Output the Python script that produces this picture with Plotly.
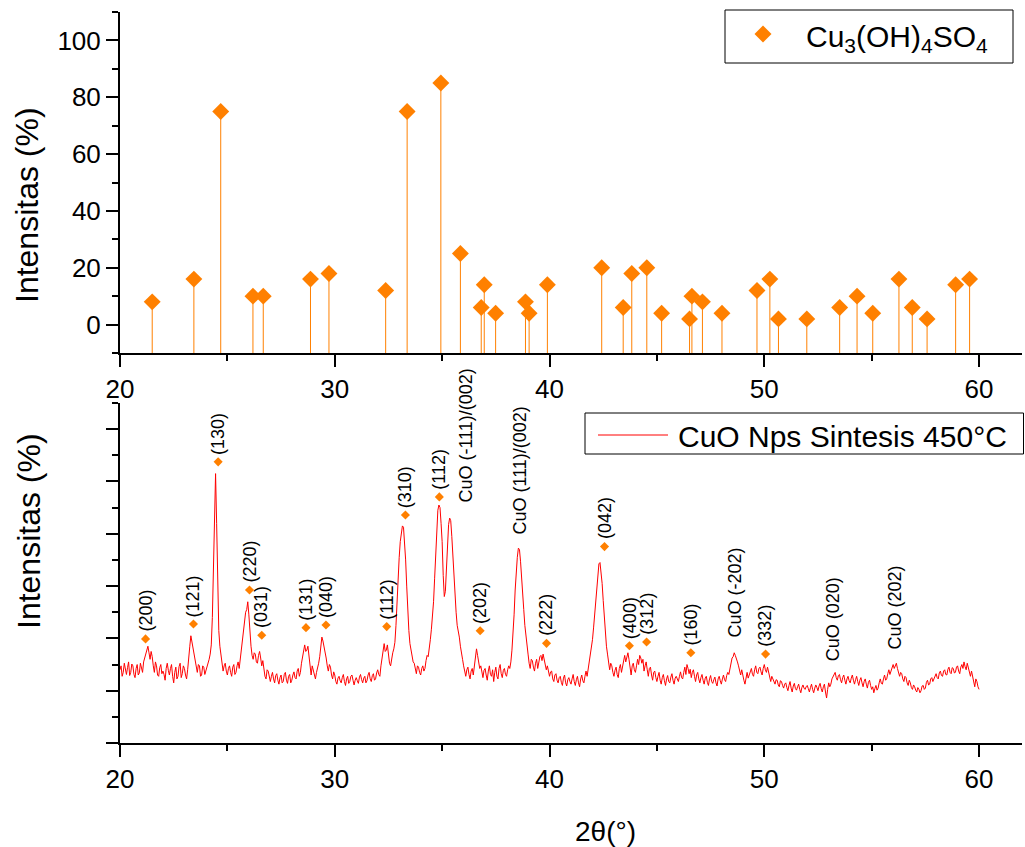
import numpy as np
import plotly.graph_objects as go

W, H = 1025, 847
FONT = "Arial, Liberation Sans, sans-serif"
ORANGE = "#FF8000"
RED = "#FF0000"

# ---------------- top panel: reference pattern Cu3(OH)4SO4 ----------------
ref_2theta = [21.50, 23.44, 24.69, 26.19, 26.67, 28.87, 29.73, 32.37, 33.37, 34.94,
              35.85, 36.82, 36.96, 37.49, 38.88, 39.05, 39.90, 42.43, 43.43, 43.83,
              44.53, 45.22, 46.52, 46.63, 47.12, 48.03, 49.66, 50.26, 50.66, 51.98,
              53.51, 54.32, 55.05, 56.27, 56.89, 57.58, 58.91, 59.56]
ref_intensity = [8, 16, 75, 10, 10, 16, 18, 12, 75, 85,
                 25, 6, 14, 4, 8, 4, 14, 20, 6, 18,
                 20, 4, 2, 10, 8, 4, 12, 16, 2, 2,
                 6, 10, 4, 16, 6, 2, 14, 16]

# ---------------- bottom panel: measured XRD pattern ----------------
# readings at 20.0, 20.1, ... 60.0
cuo_intensity = [
    2.80, 2.55, 3.05, 2.62, 3.10, 2.70, 2.95, 2.50, 3.00, 2.68,
    2.85, 3.10, 3.35, 3.70, 3.20, 3.30, 2.70, 2.95, 2.55, 3.00,
    2.75, 2.40, 3.05, 2.60, 3.00, 2.30, 2.90, 2.55, 3.05, 2.65,
    2.85, 2.45, 3.15, 4.10, 3.55, 3.20, 2.70, 2.95, 2.60, 2.90,
    2.75, 3.05, 3.40, 4.80, 9.40, 8.40, 4.30, 3.30, 2.75, 3.05,
    2.60, 2.95, 2.55, 3.00, 2.70, 3.10, 3.20, 3.85, 4.55, 5.10,
    4.90, 3.70, 3.20, 3.40, 3.05, 3.50, 2.95, 2.80, 2.45, 2.75,
    2.35, 2.70, 2.30, 2.65, 2.25, 2.60, 2.35, 2.70, 2.28, 2.62,
    2.40, 2.72, 2.45, 2.85, 2.70, 3.30, 3.75, 3.55, 3.25, 2.60,
    2.80, 2.45, 2.85, 3.30, 4.05, 3.70, 3.25, 2.75, 2.90, 2.45,
    2.60, 2.25, 2.55, 2.30, 2.62, 2.20, 2.55, 2.35, 2.60, 2.22,
    2.50, 2.28, 2.62, 2.30, 2.55, 2.38, 2.70, 2.35, 2.65, 2.45,
    2.80, 2.55, 3.30, 3.80, 3.55, 3.30, 2.95, 3.45, 3.85, 5.50,
    7.10, 8.05, 8.25, 7.00, 5.00, 3.80, 3.25, 3.05, 2.65, 2.90,
    2.60, 2.95, 2.85, 3.35, 3.55, 4.35, 5.40, 7.30, 8.90, 9.00,
    7.70, 5.60, 6.70, 8.35, 8.50, 7.10, 5.70, 4.50, 4.05, 3.50,
    2.95, 2.55, 2.90, 2.45, 2.85, 3.00, 3.60, 3.10, 2.95, 2.50,
    2.85, 2.40, 2.95, 2.55, 2.35, 2.90, 2.45, 3.00, 2.50, 2.85,
    2.55, 2.95, 3.10, 4.05, 5.85, 7.10, 7.40, 6.45, 5.10, 4.05,
    3.40, 2.85, 3.15, 2.75, 3.20, 3.05, 3.35, 3.40, 3.05, 2.95,
    2.55, 2.75, 2.35, 2.65, 2.30, 2.55, 2.20, 2.60, 2.18, 2.50,
    2.25, 2.62, 2.20, 2.55, 2.15, 2.60, 2.30, 2.75, 2.80, 3.40,
    3.95, 4.85, 6.05, 6.85, 6.55, 5.45, 4.15, 3.40, 2.80, 2.95,
    2.55, 2.90, 2.50, 3.00, 2.95, 3.35, 3.35, 3.20, 2.60, 3.05,
    2.70, 3.20, 3.35, 3.05, 2.75, 3.10, 2.55, 2.90, 2.40, 2.75,
    2.35, 2.70, 2.25, 2.62, 2.20, 2.58, 2.30, 2.65, 2.25, 2.55,
    2.35, 2.72, 2.45, 2.90, 3.00, 2.65, 2.50, 2.80, 2.35, 2.70,
    2.30, 2.62, 2.25, 2.55, 2.20, 2.58, 2.28, 2.52, 2.18, 2.55,
    2.25, 2.60, 2.35, 2.70, 2.85, 3.25, 3.45, 3.25, 2.95, 2.60,
    2.55, 2.25, 2.70, 2.60, 2.85, 2.55, 2.95, 2.65, 2.90, 2.60,
    3.00, 2.70, 2.75, 2.35, 2.45, 2.25, 2.40, 2.15, 2.35, 2.10,
    2.30, 2.00, 2.35, 1.95, 2.28, 2.02, 2.25, 1.92, 2.22, 2.05,
    2.20, 1.95, 2.25, 1.92, 2.22, 2.00, 2.28, 1.95, 2.25, 1.72,
    2.30, 2.25, 2.55, 2.70, 2.40, 2.62, 2.30, 2.60, 2.25, 2.55,
    2.30, 2.60, 2.25, 2.55, 2.20, 2.50, 2.15, 2.45, 2.10, 2.40,
    2.05, 1.92, 2.20, 2.10, 2.45, 2.25, 2.60, 2.45, 2.80, 2.75,
    3.00, 2.95, 2.85, 2.55, 2.65, 2.35, 2.50, 2.20, 2.30, 2.05,
    2.15, 1.95, 2.05, 2.00, 2.20, 2.10, 2.40, 2.25, 2.50, 2.45,
    2.65, 2.45, 2.75, 2.55, 2.80, 2.60, 2.90, 2.65, 2.85, 2.70,
    2.95, 2.65, 3.00, 3.10, 2.80, 2.85, 2.55, 2.50, 2.15, 2.35,
    2.05,
]
# readings at 20.05, 20.15, ... 59.95
cuo_intensity_mid = [
    2.95, 2.70, 2.78, 2.88, 2.58, 3.02, 2.62, 2.85, 2.60, 3.05,
    2.70, 3.25, 3.55, 3.45, 3.50, 2.95, 3.10, 2.60, 2.88, 2.65,
    2.62, 2.85, 2.78, 2.85, 2.55, 2.70, 2.45, 2.92, 2.50, 2.95,
    2.60, 2.80, 3.70, 3.85, 3.40, 2.90, 3.00, 2.55, 2.95, 2.62,
    2.90, 3.20, 3.75, 6.80, 10.30, 6.20, 3.70, 3.00, 2.95, 2.75,
    2.85, 2.70, 2.90, 2.62, 2.95, 2.85, 3.45, 4.20, 5.00, 5.40,
    4.20, 3.35, 3.45, 3.10, 3.35, 3.25, 3.15, 2.55, 2.80, 2.50,
    2.55, 2.45, 2.58, 2.40, 2.50, 2.30, 2.62, 2.40, 2.55, 2.30,
    2.60, 2.50, 2.75, 2.55, 3.05, 3.60, 3.50, 3.70, 2.85, 2.95,
    2.55, 2.70, 3.05, 3.85, 3.90, 3.45, 2.95, 3.00, 2.60, 2.72,
    2.35, 2.48, 2.38, 2.50, 2.35, 2.45, 2.28, 2.55, 2.40, 2.40,
    2.38, 2.52, 2.42, 2.48, 2.30, 2.60, 2.45, 2.58, 2.40, 2.68,
    2.62, 2.95, 3.60, 3.50, 3.75, 3.05, 3.25, 3.60, 4.50, 6.30,
    7.70, 8.30, 7.75, 6.00, 4.30, 3.50, 3.10, 2.80, 2.95, 2.70,
    2.85, 2.75, 3.15, 3.30, 3.95, 4.80, 6.30, 8.20, 9.10, 8.40,
    6.40, 5.80, 7.60, 8.60, 7.90, 6.40, 5.00, 4.30, 3.70, 3.20,
    2.70, 2.80, 2.62, 2.75, 2.60, 3.30, 3.35, 2.85, 2.70, 2.78,
    2.60, 2.75, 2.62, 2.80, 2.70, 2.55, 2.85, 2.65, 2.78, 2.62,
    2.80, 2.85, 3.55, 4.90, 6.60, 7.45, 6.95, 5.90, 4.50, 3.65,
    3.05, 3.20, 2.90, 3.05, 2.85, 3.30, 3.15, 3.20, 2.80, 2.75,
    2.72, 2.45, 2.60, 2.40, 2.50, 2.32, 2.48, 2.30, 2.42, 2.35,
    2.45, 2.35, 2.42, 2.30, 2.45, 2.38, 2.55, 2.55, 3.05, 3.60,
    4.40, 5.40, 6.50, 6.90, 6.10, 4.80, 3.70, 3.10, 3.05, 2.70,
    2.78, 2.62, 2.85, 2.70, 3.20, 3.10, 3.45, 2.85, 2.95, 2.80,
    2.95, 3.00, 3.25, 3.20, 2.95, 2.80, 2.85, 2.60, 2.70, 2.50,
    2.55, 2.40, 2.50, 2.38, 2.45, 2.35, 2.52, 2.40, 2.48, 2.45,
    2.55, 2.50, 2.70, 2.62, 2.85, 2.82, 2.70, 2.55, 2.60, 2.45,
    2.50, 2.40, 2.48, 2.32, 2.45, 2.35, 2.42, 2.30, 2.45, 2.38,
    2.45, 2.42, 2.58, 2.62, 3.05, 3.30, 3.35, 3.10, 2.75, 2.80,
    2.40, 2.55, 2.48, 2.75, 2.62, 2.80, 2.70, 2.85, 2.72, 2.85,
    2.80, 2.90, 2.50, 2.55, 2.30, 2.42, 2.22, 2.38, 2.20, 2.25,
    2.12, 2.20, 2.10, 2.18, 2.08, 2.15, 2.05, 2.12, 2.10, 2.15,
    2.08, 2.12, 2.05, 2.10, 2.12, 2.18, 2.08, 2.15, 1.95, 2.05,
    2.15, 2.45, 2.60, 2.50, 2.58, 2.42, 2.50, 2.40, 2.45, 2.38,
    2.48, 2.40, 2.42, 2.35, 2.40, 2.30, 2.35, 2.25, 2.32, 2.20,
    2.15, 2.08, 2.02, 2.30, 2.28, 2.45, 2.40, 2.65, 2.62, 2.95,
    2.85, 3.05, 2.65, 2.70, 2.45, 2.55, 2.30, 2.40, 2.12, 2.22,
    2.02, 2.12, 1.92, 2.18, 2.05, 2.32, 2.22, 2.45, 2.35, 2.60,
    2.50, 2.68, 2.58, 2.75, 2.62, 2.82, 2.70, 2.88, 2.68, 2.90,
    2.75, 2.90, 2.85, 2.92, 3.05, 2.65, 2.75, 2.30, 2.45, 2.15,
]
two_theta_main = np.round(np.linspace(20.0, 60.0, len(cuo_intensity)), 2)
two_theta_mid = np.round(np.linspace(20.05, 59.95, len(cuo_intensity_mid)), 2)

# merge both reading grids in 2theta order
pattern_x, pattern_y = [], []
for i in range(len(cuo_intensity_mid)):
    pattern_x += [two_theta_main[i], two_theta_mid[i]]
    pattern_y += [cuo_intensity[i], cuo_intensity_mid[i]]
pattern_x.append(two_theta_main[-1])
pattern_y.append(cuo_intensity[-1])

# Cu3(OH)4SO4 peak markers on the measured pattern
hkl_labels = ["(200)", "(121)", "(130)", "(220)", "(031)", "(131)", "(040)", "(112)", "(310)",
              "(112)", "(202)", "(222)", "(042)", "(400)", "(312)", "(160)", "(332)"]
hkl_x = [21.19, 23.42, 24.57, 26.03, 26.60, 28.66, 29.59, 32.42, 33.29,
         34.87, 36.77, 39.86, 42.56, 43.72, 44.52, 46.58, 50.06]
hkl_y = [3.98, 4.55, 10.75, 5.85, 4.12, 4.41, 4.51, 4.45, 8.72,
         9.41, 4.29, 3.81, 7.51, 3.72, 3.86, 3.45, 3.40]

# CuO reflections (text only)
cuo_labels = ["CuO (-111)/(002)", "CuO (111)/(002)", "CuO (-202)", "CuO (020)", "CuO (202)"]
cuo_x = [36.09, 38.62, 48.62, 53.20, 56.08]
cuo_y = [9.10, 7.89, 3.94, 3.05, 3.49]

legend_top_text = "Cu<sub>3</sub>(OH)<sub>4</sub>SO<sub>4</sub>"
legend_bottom_text = "CuO Nps Sintesis 450\u00b0C"
y_title = "Intensitas (%)"
x_title = "2\u03b8(\u00b0)"


def px(x):
    return x / W


def py(y):
    return 1 - y / H


fig = go.Figure()

# stems
stem_x, stem_y = [], []
for t, v in zip(ref_2theta, ref_intensity):
    stem_x += [t, t, None]
    stem_y += [-10, v, None]
fig.add_trace(go.Scatter(x=stem_x, y=stem_y, mode="lines", xaxis="x", yaxis="y",
                         line=dict(color=ORANGE, width=1), showlegend=False, hoverinfo="skip"))
fig.add_trace(go.Scatter(x=ref_2theta, y=ref_intensity, mode="markers", xaxis="x", yaxis="y",
                         marker=dict(symbol="diamond", size=13, color=ORANGE, line=dict(width=0)),
                         showlegend=False, cliponaxis=False))

# measured pattern
fig.add_trace(go.Scatter(x=pattern_x, y=pattern_y, mode="lines", xaxis="x2", yaxis="y2",
                         line=dict(color=RED, width=1), showlegend=False))
fig.add_trace(go.Scatter(x=hkl_x, y=hkl_y, mode="markers", xaxis="x2", yaxis="y2",
                         marker=dict(symbol="diamond", size=7, color=ORANGE, line=dict(width=0)),
                         showlegend=False, cliponaxis=False))

annotations = []
for lab, x, y in zip(hkl_labels, hkl_x, hkl_y):
    annotations.append(dict(x=x, y=y, xref="x2", yref="y2", text=lab, showarrow=False,
                            textangle=-90, xanchor="center", yanchor="bottom", yshift=5,
                            font=dict(family=FONT, size=18, color="black")))
for lab, x, y in zip(cuo_labels, cuo_x, cuo_y):
    annotations.append(dict(x=x, y=y, xref="x2", yref="y2", text=lab, showarrow=False,
                            textangle=-90, xanchor="center", yanchor="bottom",
                            font=dict(family=FONT, size=18, color="black")))

# axis titles
annotations.append(dict(x=px(27), y=py(205), xref="paper", yref="paper", text=y_title,
                        showarrow=False, textangle=-90, xanchor="center", yanchor="middle",
                        font=dict(family=FONT, size=32, color="black")))
annotations.append(dict(x=px(29), y=py(531), xref="paper", yref="paper", text=y_title,
                        showarrow=False, textangle=-90, xanchor="center", yanchor="middle",
                        font=dict(family=FONT, size=32, color="black")))
annotations.append(dict(x=px(605), y=py(831), xref="paper", yref="paper", text=x_title,
                        showarrow=False, xanchor="center", yanchor="middle",
                        font=dict(family=FONT, size=28, color="black")))

# legend texts
annotations.append(dict(x=px(804), y=py(38), xref="paper", yref="paper", text=legend_top_text,
                        showarrow=False, xanchor="left", yanchor="middle",
                        font=dict(family=FONT, size=30, color="black")))
annotations.append(dict(x=px(676), y=py(436), xref="paper", yref="paper", text=legend_bottom_text,
                        showarrow=False, xanchor="left", yanchor="middle",
                        font=dict(family=FONT, size=30, color="black")))

# legend boxes / symbols
d = 8.5
cx, cy = 763, 34
diamond_path = "M {} {} L {} {} L {} {} L {} {} Z".format(
    px(cx), py(cy - d), px(cx + d), py(cy), px(cx), py(cy + d), px(cx - d), py(cy))
shapes = [
    dict(type="rect", xref="paper", yref="paper", x0=px(725), x1=px(1013), y0=py(63), y1=py(10),
         line=dict(color="black", width=1), fillcolor="white", layer="above"),
    dict(type="path", xref="paper", yref="paper", path=diamond_path,
         fillcolor=ORANGE, line=dict(width=0), layer="above"),
    dict(type="rect", xref="paper", yref="paper", x0=px(585), x1=px(1023.5), y0=py(454), y1=py(413),
         line=dict(color="black", width=1), fillcolor="white", layer="above"),
    dict(type="line", xref="paper", yref="paper", x0=px(598), x1=px(668), y0=py(435), y1=py(435),
         line=dict(color=RED, width=1), layer="above"),
]

xdom = [px(120), px(1022)]
axis_common = dict(showline=True, linecolor="black", linewidth=2, ticks="outside",
                   tickcolor="black", tickwidth=2, showgrid=False, zeroline=False,
                   mirror=False, automargin=False)

fig.update_layout(
    width=W, height=H, autosize=False,
    margin=dict(l=0, r=0, t=0, b=0, pad=0, autoexpand=False),
    paper_bgcolor="white", plot_bgcolor="white",
    showlegend=False,
    font=dict(family=FONT, color="black"),
    xaxis=dict(domain=xdom, anchor="y", range=[20, 62], tick0=20, dtick=10, ticklen=12,
               minor=dict(ticks="outside", dtick=5, tick0=20, ticklen=6, tickwidth=2, tickcolor="black"),
               tickfont=dict(family=FONT, size=26), **axis_common),
    yaxis=dict(domain=[py(353), py(12)], anchor="x", range=[-10, 110], tickvals=[0, 20, 40, 60, 80, 100],
               ticklen=12,
               minor=dict(ticks="outside", tickvals=[-10, 10, 30, 50, 70, 90, 110], ticklen=6,
                          tickwidth=2, tickcolor="black"),
               tickfont=dict(family=FONT, size=26), **axis_common),
    xaxis2=dict(domain=xdom, anchor="y2", range=[20, 62], tick0=20, dtick=10, ticklen=12,
                minor=dict(ticks="outside", dtick=5, tick0=20, ticklen=6, tickwidth=2, tickcolor="black"),
                tickfont=dict(family=FONT, size=26), **axis_common),
    yaxis2=dict(domain=[py(743), py(403)], anchor="x2", range=[0, 13], tickvals=[0, 2, 4, 6, 8, 10, 12],
                ticklen=12, showticklabels=False,
                minor=dict(ticks="outside", tickvals=[1, 3, 5, 7, 9, 11, 13], ticklen=6,
                           tickwidth=2, tickcolor="black"),
                **axis_common),
    annotations=annotations,
    shapes=shapes,
)

fig.write_html("out.html", include_plotlyjs=True, full_html=True,
               config={"displayModeBar": False},
               post_script="document.body.style.margin='0px';document.body.style.overflow='hidden';")
